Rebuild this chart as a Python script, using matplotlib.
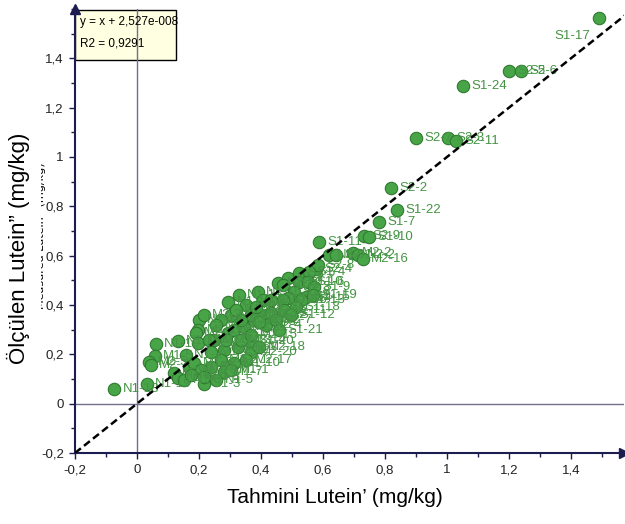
import numpy as np
import matplotlib
matplotlib.use("Agg")
import matplotlib.pyplot as plt
from matplotlib.patches import Rectangle
from matplotlib.ticker import MultipleLocator, FuncFormatter
from matplotlib import font_manager

# tahmini (predicted) lutein values
pred = [-0.074, 0.032, 0.061, 0.132, 0.058, 0.039, 0.045, 0.119, 0.132, 0.152,
        0.168, 0.184, 0.200, 0.197, 0.216, 0.216, 0.190, 0.197, 0.248, 0.294,
        0.313, 0.345, 0.377, 0.406, 0.432, 0.281, 0.326, 0.368, 0.365, 0.313,
        0.271, 0.239, 0.206, 0.216, 0.281, 0.303, 0.294, 0.329, 0.390, 0.455,
        0.487, 0.523, 0.577, 0.587, 0.732, 0.748, 0.619, 0.642, 0.697, 0.713,
        0.729, 0.584, 0.555, 0.471, 0.523, 0.552, 0.571, 0.506, 0.545, 0.568,
        0.487, 0.471, 0.529, 0.474, 0.513, 0.781, 0.839, 0.819, 0.900, 1.003,
        1.029, 1.052, 1.200, 1.239, 1.490, 0.352, 0.368, 0.416, 0.448, 0.335,
        0.303, 0.271, 0.255, 0.232, 0.335, 0.368, 0.287, 0.352, 0.394, 0.158,
        0.239, 0.255, 0.174, 0.406, 0.432, 0.384, 0.497, 0.458, 0.319, 0.394]
# olculen (measured) lutein values
meas = [0.061, 0.081, 0.243, 0.255, 0.195, 0.170, 0.158, 0.126, 0.105, 0.097,
        0.150, 0.166, 0.340, 0.300, 0.081, 0.361, 0.288, 0.247, 0.259, 0.288,
        0.300, 0.312, 0.340, 0.361, 0.369, 0.219, 0.231, 0.211, 0.255, 0.166,
        0.178, 0.150, 0.138, 0.109, 0.130, 0.138, 0.413, 0.442, 0.454, 0.490,
        0.511, 0.531, 0.547, 0.657, 0.681, 0.677, 0.604, 0.604, 0.612, 0.604,
        0.588, 0.563, 0.535, 0.482, 0.495, 0.495, 0.474, 0.454, 0.434, 0.442,
        0.430, 0.422, 0.422, 0.381, 0.393, 0.738, 0.786, 0.876, 1.078, 1.078,
        1.066, 1.289, 1.350, 1.350, 1.565, 0.401, 0.361, 0.320, 0.340, 0.340,
        0.361, 0.340, 0.320, 0.259, 0.259, 0.280, 0.259, 0.178, 0.231, 0.199,
        0.211, 0.097, 0.118, 0.422, 0.422, 0.393, 0.361, 0.300, 0.381, 0.332]
names = ["N1-18", "N1-19", "N1-10", "N1-11", "M1-5", "M2-5", "M2-7", "M1-8", "N1-4", "N1-6",
         "M1-9", "M1-6", "N1-12", "M1-12", "S1-3", "M2-3", "M2-9", "M1-3", "M1-14", "N2-1",
         "N2-5", "M2-11", "N2-6", "N2-12", "N2-3", "M2-12", "M2-1", "M2-20", "S1-20", "M1-10",
         "M1-2", "N1-7", "N1-9", "N1-3", "M1-7", "M1-1", "N1-14", "N1-15", "N1-16", "N2-10",
         "S1-2", "S1-5", "S2-4", "S1-11", "S2-9", "S1-10", "N2-9", "S2-1", "M2-2", "N2-2",
         "M2-16", "S2-8", "S1-4", "S1-1", "S2-10", "S1-6", "S1-9", "S1-8", "S1-15", "S1-19",
         "S1-14", "S1-16", "S1-13", "N2-11", "S1-18", "S1-7", "S1-22", "S2-2", "S2-7", "S2-3",
         "S2-11", "S1-24", "S2-5", "S2-6", "S1-17", "M2-4", "M2-6", "N2-4", "N2-7", "M2-8",
         "M2-10", "M2-13", "M1-4", "M1-11", "M2-14", "M2-15", "M1-13", "M2-17", "M2-18", "N1-2",
         "M1-15", "N1-5", "N1-8", "N1-17", "N2-13", "M2-19", "S1-12", "S1-21", "N1-13", "N2-8"]

eq_text = "y = x + 2,527e-008"
r2_text = "R2 = 0,9291"

# narrow font if it is there, else plain Liberation Sans
installed = {f.name for f in font_manager.fontManager.ttflist}
narrow = "Liberation Sans Narrow" if "Liberation Sans Narrow" in installed else "Liberation Sans"
fs = 10 if narrow == "Liberation Sans Narrow" else 9.5
green = "#47a447"
navy = "#1c1c50"

fig = plt.figure(figsize=(6.25, 5.24), dpi=100)
ax = fig.add_axes([0.12, 0.1355, 0.878, 0.8475])
ax.set_xlim(-0.2, 1.57)
ax.set_ylim(-0.2, 1.6)

# zero lines
ax.axvline(0, color="#70708a", lw=1, zorder=2)
ax.axhline(0, color="#70708a", lw=1, zorder=2)

ax.scatter(pred, meas, s=80, c=green, edgecolors="#2f7a2f", linewidths=0.8, zorder=3)
for px, py, nm in zip(pred, meas, names):
    if nm == "S1-17":
        ax.annotate(nm, (px, py), xytext=(-6, -13), textcoords="offset points",
                    ha="right", va="center", fontsize=fs, family=narrow,
                    color="#449444", zorder=3.5)
    else:
        ax.annotate(nm, (px, py), xytext=(6, 0), textcoords="offset points",
                    ha="left", va="center", fontsize=fs, family=narrow,
                    color="#449444", zorder=3.5)

# y = x reference line
ax.plot([-0.2, 1.6], [-0.2, 1.6], color="black", ls=(0, (3, 1.6)), lw=1.8, zorder=4)

# equation box
ax.add_patch(Rectangle((0, 0.885), 0.184, 0.1126, transform=ax.transAxes,
                       facecolor="#ffffe1", edgecolor="black", lw=1, zorder=1.5))
ax.text(0.009, 0.971, eq_text, transform=ax.transAxes, fontsize=fs - 1, family=narrow,
        va="center", zorder=5)
ax.text(0.009, 0.921, r2_text, transform=ax.transAxes, fontsize=fs - 1, family=narrow,
        va="center", zorder=5)

for s in ["top", "right"]:
    ax.spines[s].set_visible(False)
for s in ["left", "bottom"]:
    ax.spines[s].set_color(navy)
    ax.spines[s].set_linewidth(1.5)
ax.plot(1, 0, ">", color=navy, ms=7, transform=ax.transAxes, clip_on=False, zorder=6)
ax.plot(0, 1, "^", color=navy, ms=7, transform=ax.transAxes, clip_on=False, zorder=6)

fmt = FuncFormatter(lambda v, p: ("%g" % round(v, 1)).replace(".", ",") if abs(v) > 1e-9 else "0")
for a in [ax.xaxis, ax.yaxis]:
    a.set_minor_locator(MultipleLocator(0.1))
    a.set_major_formatter(fmt)
ax.set_xticks(np.arange(-0.2, 1.41, 0.2))
ax.set_yticks(np.arange(-0.2, 1.41, 0.2))
ax.tick_params(which="both", direction="out", color=navy, width=1)
ax.tick_params(which="major", length=4, labelsize=fs, pad=4, labelcolor="#222222")
ax.tick_params(which="minor", length=3)
for lb in ax.get_xticklabels() + ax.get_yticklabels():
    lb.set_family(narrow)

# axis titles (old english title hidden behind white box)
fig.text(0.066, 0.55, "Measured Lutein'' (mg/kg)", rotation=90, fontsize=8,
         ha="center", va="center", zorder=1)
fig.patches.append(Rectangle((0, 0.2), 0.066, 0.6, transform=fig.transFigure,
                             facecolor="white", edgecolor="none", zorder=2))
fig.text(0.03, 0.527, "Ölçülen Lutein” (mg/kg)", rotation=90, fontsize=16,
         family="Liberation Sans", ha="center", va="center", zorder=3)
fig.text(0.536, 0.05, "Tahmini Lutein’ (mg/kg)", fontsize=15,
         family="Liberation Sans", ha="center", va="center")

fig.savefig("out.png", dpi=100)
